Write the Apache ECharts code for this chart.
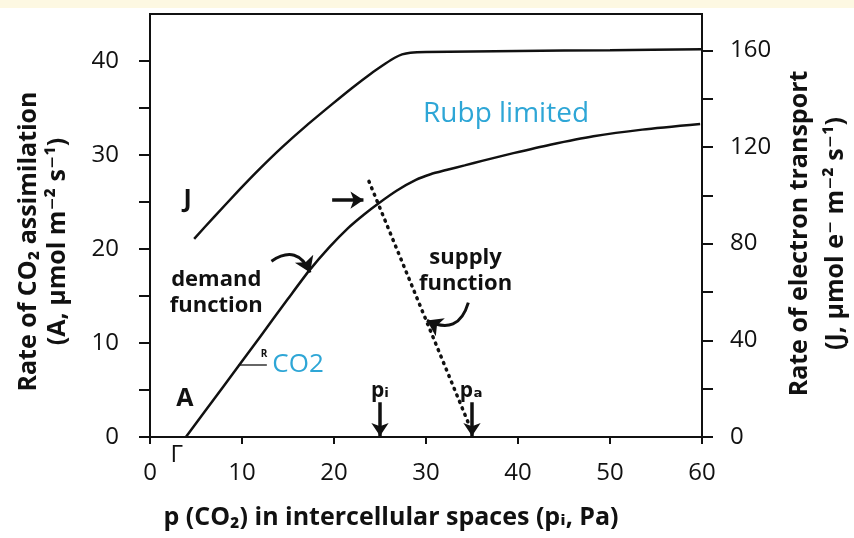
<!DOCTYPE html>
<html>
<head>
<meta charset="utf-8">
<title>Demand and supply functions of CO2 assimilation</title>
<script src="https://cdn.jsdelivr.net/npm/echarts@6/dist/echarts.min.js"></script>
<style>
  html, body { margin: 0; padding: 0; background: #fff; }
  #main { width: 854px; height: 538px; }
</style>
</head>
<body>
<div id="main"></div>
<script>
// intercellular CO2 partial pressure (Pa) and assimilation rate A (left axis)
const pA = [3.9, 8, 12, 15, 17.3, 19.5, 21.5, 23.3, 24.9, 26.8, 28.9, 30.5, 32.2, 34.2, 36.2, 39.5, 43.5, 48.2, 53.5, 59.8];
const rateA = [0, 5.4, 10.7, 14.7, 17.7, 20.2, 22.2, 23.7, 24.9, 26.2, 27.35, 27.95, 28.4, 28.9, 29.4, 30.2, 31.1, 32.0, 32.7, 33.3];

// electron transport rate J (right axis)
const pJ = [4.8, 7, 9.7, 12, 14.4, 17, 19.8, 22, 24, 25.6, 26.6, 27.4, 28.3, 30, 40, 50, 60];
const rateJ = [82, 91.2, 102.2, 111.2, 120, 128.8, 137.7, 144.5, 150.3, 154.5, 156.9, 158.3, 159, 159.3, 159.7, 160, 160.4];

// supply function (dotted)
const pSupply = [23.8, 34.6];
const rateSupply = [27.2, 1.5];

// tick values
const xTicks = [0, 10, 20, 30, 40, 50, 60];
const aTicks = [0, 5, 10, 15, 20, 25, 30, 35, 40];
const aLabels = [0, 10, 20, 30, 40];
const jTicks = [0, 20, 40, 60, 80, 100, 120, 140, 160];
const jLabels = [0, 40, 80, 120, 160];

const FONT = '"Open Sans", "DejaVu Sans", sans-serif';
const INK = '#111';
const CYAN = '#2ea6d6';

const zip = (xs, ys) => xs.map((x, i) => [x, ys[i]]);

const axisCommon = {
  axisLine: { show: true, onZero: false, lineStyle: { color: INK, width: 2 } },
  splitLine: { show: false }
};

const option = {
  animation: false,
  backgroundColor: '#fff',
  textStyle: { fontFamily: FONT },
  grid: {
    left: 150, right: 152, top: 14, bottom: 101,
    outerBoundsMode: 'none', containLabel: false,
    show: true, borderColor: INK, borderWidth: 2, backgroundColor: 'transparent'
  },
  xAxis: Object.assign({}, axisCommon, {
    type: 'value', min: 0, max: 60,
    name: 'p (CO₂) in intercellular spaces (pᵢ, Pa)',
    nameLocation: 'middle', nameGap: 68,
    nameTextStyle: { fontSize: 25, fontWeight: 'bold', color: INK, padding: [0, 70, 0, 0] },
    axisTick: { show: true, customValues: xTicks, length: 7, lineStyle: { color: INK, width: 2 } },
    axisLabel: { customValues: xTicks, fontSize: 24, color: INK, margin: 24 }
  }),
  yAxis: [
    Object.assign({}, axisCommon, {
      type: 'value', min: 0, max: 45, position: 'left',
      name: 'Rate of CO₂ assimilation\n(A, μmol m⁻² s⁻¹)',
      nameLocation: 'middle', nameRotate: 90, nameGap: 78,
      nameTextStyle: { fontSize: 25, fontWeight: 'bold', color: INK, lineHeight: 29, padding: [0, 32, 0, 0] },
      axisTick: { show: true, customValues: aTicks, length: 11, lineStyle: { color: INK, width: 2 } },
      axisLabel: { customValues: aLabels, fontSize: 24, color: INK, margin: 31 }
    }),
    Object.assign({}, axisCommon, {
      type: 'value', min: 0, max: 175, position: 'right',
      name: 'Rate of electron transport\n(J, μmol e⁻ m⁻² s⁻¹)',
      nameLocation: 'middle', nameRotate: 90, nameGap: 80,
      nameTextStyle: { fontSize: 25, fontWeight: 'bold', color: INK, lineHeight: 36, padding: [0, 16, 0, 0] },
      axisTick: { show: true, customValues: jTicks, length: 11, lineStyle: { color: INK, width: 2 } },
      axisLabel: { customValues: jLabels, fontSize: 24, color: INK, margin: 28 }
    })
  ],
  series: [
    {
      name: 'J', type: 'line', yAxisIndex: 1, data: zip(pJ, rateJ),
      symbol: 'none', smooth: 0.25, lineStyle: { color: INK, width: 2.5 }
    },
    {
      name: 'A', type: 'line', yAxisIndex: 0, data: zip(pA, rateA),
      symbol: 'none', smooth: 0.25, lineStyle: { color: INK, width: 2.5 }
    },
    {
      name: 'supply', type: 'line', yAxisIndex: 0, data: zip(pSupply, rateSupply),
      symbol: 'none', lineStyle: { color: INK, width: 3.5, type: [1, 6], cap: 'round' }
    },
    {
      // pointer arrows
      name: 'arrows', type: 'lines', coordinateSystem: 'cartesian2d', xAxisIndex: 0, yAxisIndex: 0,
      silent: true, symbol: ['none', 'arrow'], symbolSize: 13,
      lineStyle: { color: INK, width: 3.5, opacity: 1, curveness: 0 },
      data: [
        { coords: [[19.8, 25.2], [23.2, 25.2]] },
        { coords: [[25, 3.7], [25, 0.1]] },
        { coords: [[35, 3.7], [35, 0.1]] },
        { coords: [[13.2, 18.7], [17.4, 17.5]], lineStyle: { curveness: 0.6, width: 3 }, symbolSize: 15 },
        { coords: [[34.6, 14.3], [30.1, 12.4]], lineStyle: { curveness: 0.6, width: 3 }, symbolSize: 15 }
      ]
    },
    {
      name: 'slope', type: 'lines', coordinateSystem: 'cartesian2d', xAxisIndex: 0, yAxisIndex: 0,
      silent: true, symbol: 'none',
      lineStyle: { color: '#333', width: 1.5, opacity: 1 },
      data: [{ coords: [[9.6, 7.65], [12.7, 7.65]] }]
    }
  ],
  graphic: [
    { type: 'rect', left: 0, top: 0, shape: { width: 854, height: 8 }, style: { fill: '#fdf8e2' }, silent: true }
  ]
};

const chart = echarts.init(document.getElementById('main'));
chart.setOption(option);

// text annotations placed at data coordinates (left axis units)
const notes = [
  { text: 'J', at: [4.1, 25.2], size: 25, weight: 'bold' },
  { text: 'A', at: [3.8, 4.1], size: 25, weight: 'bold' },
  { text: 'Γ', at: [2.9, -1.9], size: 24, weight: 'normal' },
  { text: 'demand\nfunction', at: [7.2, 15.3], size: 22, weight: 'bold', lh: 26 },
  { text: 'supply\nfunction', at: [34.3, 17.7], size: 22, weight: 'bold', lh: 26 },
  { text: 'Rubp limited', at: [38.7, 34.4], size: 28, weight: 'normal', color: CYAN },
  { text: 'CO2', at: [13.3, 7.75], size: 26, weight: 'normal', color: CYAN, align: 'left' },
  { text: 'R', at: [12.4, 8.8], size: 10, weight: 'bold' },
  { text: 'pᵢ', at: [25, 4.9], size: 21, weight: 'bold' },
  { text: 'pₐ', at: [34.9, 4.9], size: 21, weight: 'bold' }
];

chart.setOption({
  graphic: option.graphic.concat(notes.map(n => {
    const p = chart.convertToPixel({ gridIndex: 0 }, n.at);
    return {
      type: 'text', x: p[0], y: p[1], silent: true,
      style: {
        text: n.text, fill: n.color || INK,
        font: n.weight + ' ' + n.size + 'px ' + FONT,
        lineHeight: n.lh || n.size,
        align: n.align || 'center', verticalAlign: 'middle'
      }
    };
  }))
});
</script>
</body>
</html>
